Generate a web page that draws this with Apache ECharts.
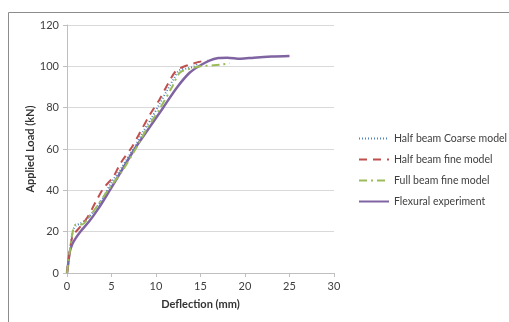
<!DOCTYPE html>
<html><head><meta charset="utf-8">
<script src="https://cdn.jsdelivr.net/npm/echarts@6/dist/echarts.min.js"></script>
<style>html,body{margin:0;padding:0;background:#fff}#c{width:509px;height:322px}</style>
</head><body><div id="c"></div>
<script>
var seriesNames = ['Half beam Coarse model','Half beam fine model','Full beam fine model','Flexural experiment'];
var xTicks = [0,5,10,15,20,25,30];
var yTicks = [0,20,40,60,80,100,120];
var coarseHalf = [[0,0],[0.3,10],[0.5,16],[0.7,21],[1.0,23],[1.5,24],[2.2,26],[3.0,30],[4.0,36],[5.0,44],[6.0,50],[7.0,57],[7.6,61],[8.5,68],[9.5,75],[10.3,81],[11.2,88],[12.0,94],[12.6,98],[13.5,99],[14.3,100],[14.9,102.6]];
var fineHalf = [[0,0],[0.3,10],[0.6,17.6],[1.0,20],[1.5,22.4],[2.3,27],[3.3,35],[4.1,41],[5.2,46.5],[6.0,53],[7.3,61],[8.2,68],[9.3,76.5],[10.4,84],[11.4,92],[12.3,98],[13.6,100.6],[15.3,102.6],[15.8,102.8]];
var fineFull = [[0,0],[0.3,10],[0.6,19],[1.0,23.5],[1.7,23.5],[2.3,26],[3.0,30],[4.6,40],[6.3,50],[7.7,60],[9.0,70],[10.5,80],[11.8,90],[12.7,97],[14.0,99],[15.0,100],[16.5,100.5],[17.5,101],[18.3,101.5]];
var experiment = [[0,0],[0.15,5],[0.3,10],[0.6,14],[1.0,17],[1.5,20],[2.5,25],[3.5,31],[4.8,40],[6.2,50],[7.6,60],[9.2,70],[10.8,80],[12.4,90],[13.8,97],[15.0,100.5],[16.0,102.8],[17.0,104],[18.0,104.2],[19.5,103.7],[21.0,104.2],[23.0,104.7],[25.0,105]];

var chart = echarts.init(document.getElementById('c'), null, {renderer:'canvas'});
var datasets = [coarseHalf, fineHalf, fineFull, experiment];
var colors = ['#4F81BD','#C0504D','#9BBB59','#8064A2'];
var types = [[1,2],[8,6],[8,4,2,4],'solid'];
var widths = [2,2,2,2.5];
var FONT = 'Lato, "Open Sans", sans-serif';
chart.setOption({
  animation:false,
  textStyle:{fontFamily:FONT},
  graphic:[{type:'rect',shape:{x:8.5,y:12.5,width:520,height:330},style:{fill:'none',stroke:'#8c8c8c',lineWidth:1},silent:true}],
  grid:{left:67,right:175,top:25,bottom:49,containLabel:false},
  legend:{orient:'vertical',left:353,top:128,itemWidth:30,itemHeight:10,itemGap:10,
    itemStyle:{color:'transparent',borderColor:'transparent',borderWidth:0},
    textStyle:{fontSize:10.5,color:'#404040',fontFamily:FONT},
    data:seriesNames},
  xAxis:{type:'value',min:0,max:30,interval:5,
    name:'Deflection (mm)',nameLocation:'middle',nameGap:26,nameMoveOverlap:false,
    nameTextStyle:{fontSize:11,fontWeight:'bold',color:'#333',fontFamily:FONT},
    axisLine:{show:true,lineStyle:{color:'#bfbfbf'}},
    axisTick:{show:true,length:4,lineStyle:{color:'#bfbfbf'}},
    axisLabel:{fontSize:11,color:'#404040',margin:8,fontFamily:FONT},
    splitLine:{show:false}},
  yAxis:{type:'value',min:0,max:120,interval:20,
    name:'Applied Load (kN)',nameLocation:'middle',nameGap:31,nameMoveOverlap:false,
    nameTextStyle:{fontSize:11,fontWeight:'bold',color:'#333',fontFamily:FONT},
    axisLine:{show:true,lineStyle:{color:'#bfbfbf'}},
    axisTick:{show:true,length:4,lineStyle:{color:'#bfbfbf'}},
    axisLabel:{fontSize:11,color:'#404040',margin:8,fontFamily:FONT},
    splitLine:{show:true,lineStyle:{color:'#d9d9d9',width:1}}},
  series:datasets.map(function(d,i){
    return {name:seriesNames[i],type:'line',data:d,showSymbol:false,symbol:'none',smooth:0.3,
      lineStyle:{color:colors[i],width:widths[i],type:types[i]},itemStyle:{color:colors[i]},z:i===3?1:2};
  })
});
</script></body></html>
